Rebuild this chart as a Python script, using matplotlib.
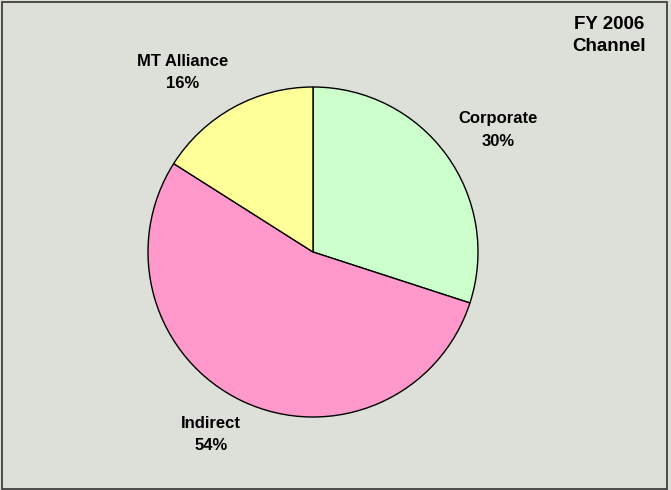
import matplotlib
matplotlib.use('Agg')
import matplotlib.pyplot as plt
from matplotlib.patches import Rectangle

plt.rcParams['font.family'] = ['Liberation Sans', 'DejaVu Sans']

# data
channels = ['Corporate', 'Indirect', 'MT Alliance']
shares = [30, 54, 16]
colors = ['#CCFFCC', '#FF99CC', '#FFFF99']
# label positions (data coords, pie radius = 1)
label_pos = [(1.12, 0.74), (-0.62, -1.106), (-0.79, 1.088)]

bg = '#DCE0D8'
fig = plt.figure(figsize=(6.71, 4.90), dpi=100)
fig.patch.set_facecolor(bg)

# pie centred at (313, 252) px with radius 165 px
cx, cy, r = 313 / 671, 1 - 252 / 490, 165
w, h = 2 * r / 671, 2 * r / 490
ax = fig.add_axes([cx - w / 2, cy - h / 2, w, h])
ax.set_facecolor(bg)
ax.pie(shares, colors=colors, startangle=90, counterclock=False,
       wedgeprops=dict(edgecolor='black', linewidth=1))
ax.set_xlim(-1, 1)
ax.set_ylim(-1, 1)
ax.set_aspect('equal')
ax.axis('off')

for name, val, (x, y) in zip(channels, shares, label_pos):
    ax.text(x, y, f'{name}\n{val}%', ha='center', va='center',
            fontsize=12, fontweight='bold', linespacing=1.6,
            clip_on=False)

fig.text(609 / 671, 1 - 35.5 / 490, 'FY 2006\nChannel', ha='center', va='center',
         fontsize=13.5, fontweight='bold', linespacing=1.45)

# chart border
fig.patches.append(Rectangle((2 / 671, 1 / 490), 665 / 671, 487 / 490,
                             transform=fig.transFigure, fill=False,
                             edgecolor='#333333', linewidth=1.2))

fig.savefig('out.png', dpi=100, facecolor=bg)
